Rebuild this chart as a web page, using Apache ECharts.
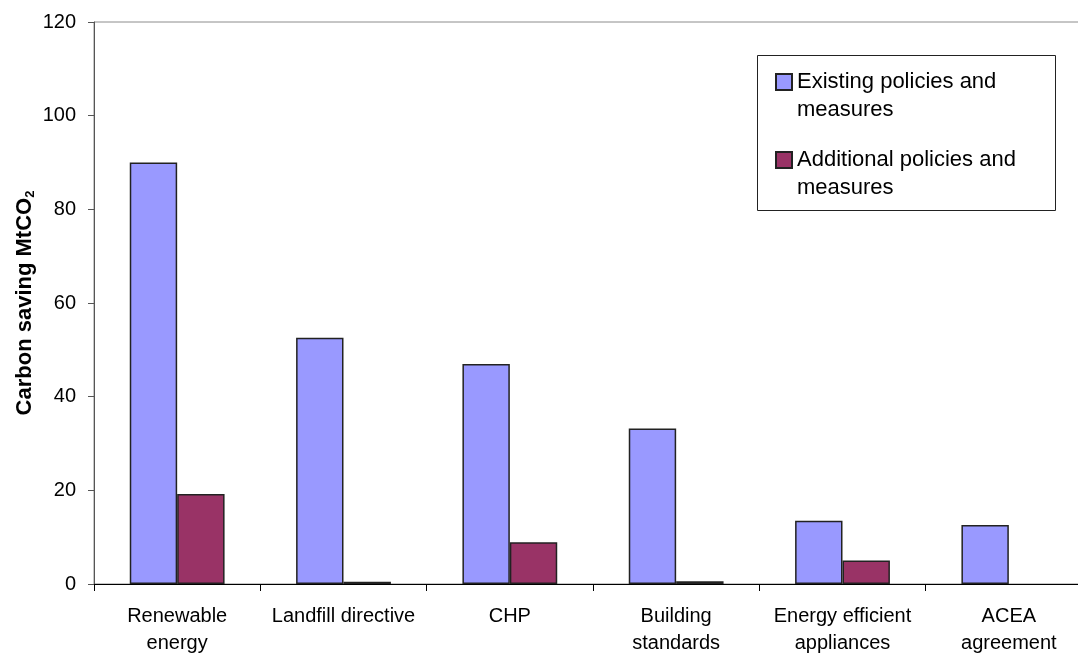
<!DOCTYPE html>
<html>
<head>
<meta charset="utf-8">
<script src="https://cdn.jsdelivr.net/npm/echarts@6/dist/echarts.min.js"></script>
<style>
  html, body { margin: 0; padding: 0; background: #fff; overflow: hidden; width: 1078px; height: 655px; }
  #chart { width: 1092px; height: 655px; }
</style>
</head>
<body>
<div id="chart"></div>
<script>
const categories = [
  'Renewable\nenergy',
  'Landfill directive',
  'CHP',
  'Building\nstandards',
  'Energy efficient\nappliances',
  'ACEA\nagreement'
];
const existingValues = [90, 52.6, 47, 33.2, 13.5, 12.6];
const additionalValues = [19.2, 0.5, 8.9, 0.6, 5.0, null];
const seriesNames = ['Existing policies and measures', 'Additional policies and measures'];
const legendLabels = {
  'Existing policies and measures': 'Existing policies and\nmeasures',
  'Additional policies and measures': 'Additional policies and\nmeasures'
};
const yTicks = { min: 0, max: 120, interval: 20 };

const FONT = "'Liberation Sans', Arial, sans-serif";
const chart = echarts.init(document.getElementById('chart'));

chart.setOption({
  animation: false,
  backgroundColor: '#ffffff',
  textStyle: { fontFamily: FONT, color: '#000' },
  grid: {
    left: 94, top: 22, bottom: 71, right: 0,
    containLabel: false,
    outerBoundsMode: 'none',
    show: true, borderColor: '#8c8c8c', borderWidth: 1, backgroundColor: 'transparent'
  },
  graphic: [{
    type: 'rect',
    shape: { x: 757.5, y: 55.5, width: 298, height: 155 },
    style: { fill: 'none', stroke: '#222', lineWidth: 1 },
    z: 0
  }],
  legend: {
    orient: 'vertical',
    left: 775,
    top: 40,
    padding: 0,
    itemGap: -6,
    itemWidth: 16,
    itemHeight: 16,
    icon: 'rect',
    selectedMode: false,
    data: seriesNames,
    formatter: function (name) { return '\n' + legendLabels[name]; },
    textStyle: { fontFamily: FONT, fontSize: 22, lineHeight: 28, color: '#000' }
  },
  xAxis: {
    type: 'category',
    data: categories,
    boundaryGap: true,
    axisLine: { show: true, lineStyle: { color: '#000', width: 1 } },
    axisTick: { show: true, length: 7, lineStyle: { color: '#000' } },
    axisLabel: {
      interval: 0, margin: 19, fontFamily: FONT, fontSize: 20, lineHeight: 27, color: '#000'
    },
    splitLine: { show: false }
  },
  yAxis: {
    type: 'value',
    min: yTicks.min, max: yTicks.max, interval: yTicks.interval,
    name: 'Carbon saving MtCO{sub|2}',
    nameLocation: 'middle',
    nameGap: 57,
    nameMoveOverlap: false,
    nameRotate: 90,
    nameTextStyle: {
      fontFamily: FONT, fontSize: 22, fontWeight: 'bold', color: '#000',
      rich: {
        sub: { fontFamily: FONT, fontSize: 13, fontWeight: 'bold', color: '#000', verticalAlign: 'bottom', lineHeight: 24 }
      }
    },
    axisLine: { show: true, lineStyle: { color: '#555', width: 1 } },
    axisTick: { show: true, length: 6, lineStyle: { color: '#555' } },
    axisLabel: { margin: 18, fontFamily: FONT, fontSize: 20, color: '#000' },
    splitLine: { show: false }
  },
  series: [
    {
      name: seriesNames[0],
      type: 'bar',
      data: existingValues,
      barGap: '0%',
      barCategoryGap: '43%',
      itemStyle: { color: '#9999ff', borderColor: '#222', borderWidth: 1.5 }
    },
    {
      name: seriesNames[1],
      type: 'bar',
      data: additionalValues,
      barGap: '0%',
      barCategoryGap: '43%',
      itemStyle: { color: '#993366', borderColor: '#222', borderWidth: 1.5 }
    }
  ]
});
</script>
</body>
</html>
